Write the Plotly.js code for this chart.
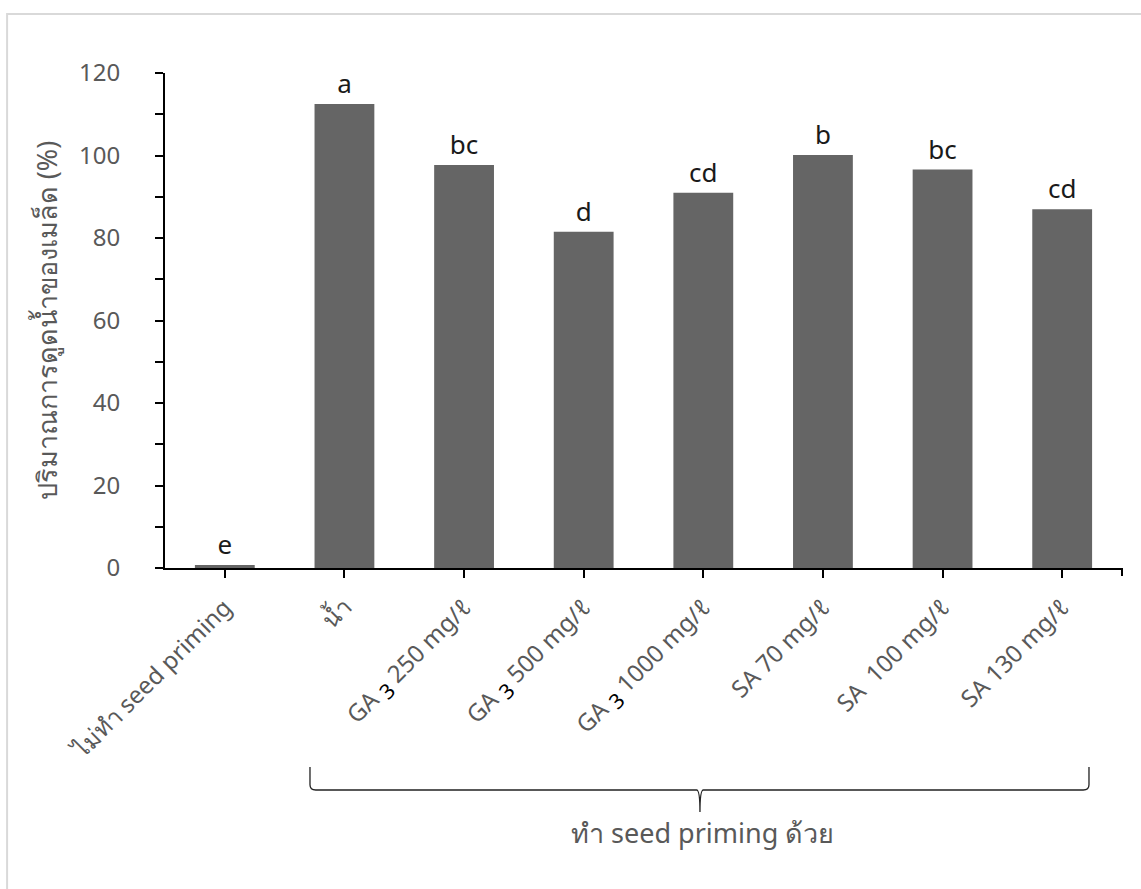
<!DOCTYPE html>
<html>
<head>
<meta charset="utf-8">
<script src="https://cdn.plot.ly/plotly-3.0.1.min.js"></script>
<style>html,body{margin:0;padding:0;background:#fff;}#chart{width:1141px;height:889px;}</style>
</head>
<body>
<div id="chart"></div>
<script>
const SUB3 = "<sub><span style=\"font-size:21px;fill:#000\">3</span></sub>";
const categories = [
  "ไม่ทำ seed priming",
  "น้ำ",
  "GA " + SUB3 + " 250 mg/ℓ",
  "GA " + SUB3 + " 500 mg/ℓ",
  "GA " + SUB3 + " 1000 mg/ℓ",
  "SA 70 mg/ℓ",
  "SA  100 mg/ℓ",
  "SA 130 mg/ℓ"
];
const values = [0.7, 112.5, 97.7, 81.5, 91.0, 100.1, 96.6, 87.0];
const letters = ["e", "a", "bc", "d", "cd", "b", "bc", "cd"];
const yTickVals = [0, 20, 40, 60, 80, 100, 120];
const yTitle = "ปริมาณการดูดน้ำของเมล็ด (%)";
const groupLabel = "ทำ seed priming ด้วย";

const FONT = "Noto Sans, Open Sans, sans-serif";

const trace = {
  type: "bar",
  x: categories,
  y: values,
  text: letters,
  textposition: "outside",
  cliponaxis: false,
  textfont: {family: FONT, size: 26, color: "#1a1a1a"},
  marker: {color: "#656565", line: {width: 0}},
  width: 0.5,
  hoverinfo: "none"
};

const layout = {
  width: 1141, height: 889,
  paper_bgcolor: "#ffffff", plot_bgcolor: "#ffffff",
  margin: {l: 165, r: 19, t: 73, b: 321},
  showlegend: false,
  font: {family: FONT, color: "#595959"},
  xaxis: {
    type: "category",
    showline: true, linecolor: "#000", linewidth: 2,
    ticks: "outside", ticklen: 8, tickwidth: 2, tickcolor: "#000",
    tickangle: -45,
    tickfont: {size: 24, color: "#595959"},
    ticklabelstandoff: 6,
    showgrid: false, zeroline: false,
    range: [-0.5, 7.5]
  },
  yaxis: {
    range: [0, 120],
    tickvals: yTickVals,
    showline: true, linecolor: "#000", linewidth: 2,
    ticks: "outside", ticklen: 8, tickwidth: 2, tickcolor: "#000",
    minor: {dtick: 10, ticks: "outside", ticklen: 8, tickwidth: 2, tickcolor: "#000", showgrid: false},
    tickfont: {size: 24, color: "#595959"},
    ticklabelstandoff: 30,
    showgrid: false, zeroline: false,
    title: {text: yTitle, font: {size: 27, color: "#595959"}, standoff: 14}
  },
  shapes: [
    {type: "rect", xref: "paper", yref: "paper", x0: -0.165, x1: 1.05, y0: -0.7, y1: 1.119,
     line: {color: "#d9d9d9", width: 2}, fillcolor: "rgba(0,0,0,0)", layer: "below"},
    {type: "line", xref: "paper", yref: "paper", x0: 1, x1: 1, y0: 0, y1: -0.016,
     line: {color: "#000", width: 2}},
    {type: "path", xref: "paper", yref: "paper",
     path: "M 0.1515,-0.402 L 0.1515,-0.438 Q 0.1515,-0.4485 0.1575,-0.4485 L 0.5555,-0.4485 Q 0.5590,-0.4485 0.5590,-0.493 Q 0.5590,-0.4485 0.5625,-0.4485 L 0.9595,-0.4485 Q 0.9655,-0.4485 0.9655,-0.438 L 0.9655,-0.402",
     line: {color: "#222", width: 1.3}}
  ],
  annotations: [
    {xref: "paper", yref: "paper", x: 0.562, y: -0.535, text: groupLabel, showarrow: false,
     xanchor: "center", yanchor: "middle", font: {size: 27, color: "#595959"}}
  ]
};

Plotly.newPlot("chart", [trace], layout, {staticPlot: true, displayModeBar: false});
</script>
</body>
</html>
